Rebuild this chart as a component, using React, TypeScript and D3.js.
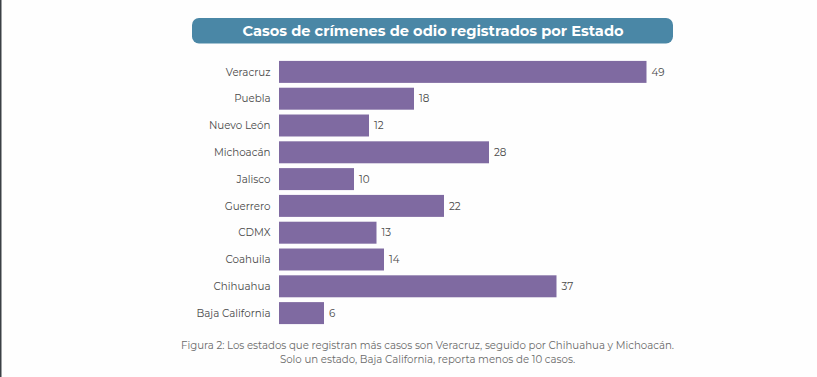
import React from "react";
import * as d3 from "d3";

const states = ["Veracruz", "Puebla", "Nuevo León", "Michoacán", "Jalisco", "Guerrero", "CDMX", "Coahuila", "Chihuahua", "Baja California"];
const cases = [49, 18, 12, 28, 10, 22, 13, 14, 37, 6];
const title = "Casos de crímenes de odio registrados por Estado";
const captionLines = [
  "Figura 2: Los estados que registran más casos son Veracruz, seguido por Chihuahua y Michoacán.",
  "Solo un estado, Baja California, reporta menos de 10 casos.",
];

const W = 817;
const H = 377;

export default function App() {
  const x = d3.scaleLinear().domain([0, 49]).range([279, 646.5]);
  const y = d3.scaleBand<string>().domain(states).range([58.5, 326.5]).paddingInner(0.18).paddingOuter(0.09);
  const font = "Montserrat, 'Open Sans', 'Noto Sans', sans-serif";
  return (
    <svg width={W} height={H} style={{ position: "absolute", left: 0, top: 0, background: "#fefefe" }} fontFamily={font}>
      <rect x={0} y={0} width={W} height={H} fill="#fefefe" />
      <rect x={0} y={0} width={1.5} height={H} fill="#3b4045" />
      <rect x={192} y={18} width={481} height={25.5} rx={7} fill="#4a87a6" />
      <text x={433} y={35.5} textAnchor="middle" fill="#ffffff" fontSize={14.6} fontWeight={700}>{title}</text>
      {states.map((s, i) => (
        <g key={s}>
          <rect x={x(0)} y={y(s)} width={x(cases[i]) - x(0)} height={y.bandwidth()} fill="#7f6aa1" />
          <text x={270.5} y={(y(s) as number) + y.bandwidth() / 2} dy="0.35em" textAnchor="end" fontSize={10.3} fill="#4a4a4a">{s}</text>
          <text x={x(cases[i]) + 5} y={(y(s) as number) + y.bandwidth() / 2} dy="0.35em" textAnchor="start" fontSize={10.3} fill="#4a4a4a">{cases[i]}</text>
        </g>
      ))}
      {captionLines.map((l, i) => (
        <text key={i} x={427.5} y={349 + i * 13.5} textAnchor="middle" fontSize={10.2} fill="#6a6a6a">{l}</text>
      ))}
    </svg>
  );
}
